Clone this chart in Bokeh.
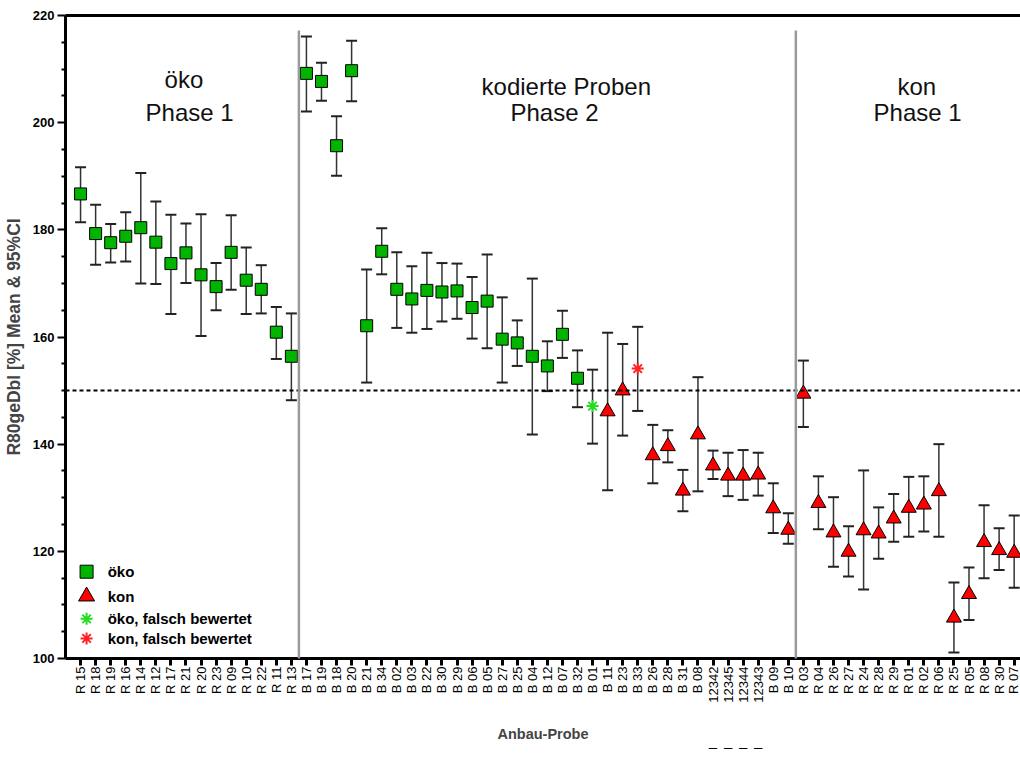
import math
from bokeh.plotting import figure
from bokeh.models import (Range1d, FixedTicker, LinearAxis, Whisker, TeeHead, Span, Label,
                          ColumnDataSource, Arrow)
from bokeh.embed import file_html
from bokeh.resources import INLINE

FONT = "Liberation Sans"

# ---------------- data ----------------
labels = ["R 15", "R 18", "R 19", "R 16", "R 14", "R 12", "R 17", "R 21", "R 20", "R 23",
          "R 09", "R 10", "R 22", "R 11", "R 13",
          "B 17", "B 19", "B 18", "B 20", "B 21", "B 34", "B 02", "B 03", "B 22", "B 30",
          "B 29", "B 06", "B 05", "B 27", "B 25", "B 04", "B 12", "B 07", "B 32", "B 01",
          "B 11", "B 23", "B 33", "B 26", "B 28", "B 31", "B 08", "12342", "12345", "12344",
          "12343", "B 09", "B 10",
          "R 03", "R 04", "R 26", "R 27", "R 24", "R 28", "R 29", "R 01", "R 02", "R 06",
          "R 25", "R 05", "R 08", "R 30", "R 07"]

means = [186.7, 179.3, 177.6, 178.8, 180.4, 177.7, 173.7, 175.7, 171.6, 169.4,
         175.8, 170.6, 168.9, 160.9, 156.4,
         209.2, 207.7, 195.7, 209.7, 162.1, 176.0, 168.9, 167.1, 168.7, 168.4,
         168.6, 165.5, 166.7, 159.6, 158.9, 156.4, 154.6, 160.5, 152.3, 147.1,
         146.1, 150.0, 154.1, 137.9, 139.6, 131.3, 141.8, 136.0, 134.1, 134.1,
         134.3, 128.0, 124.0,
         149.4, 129.0, 123.5, 119.9, 123.9, 123.3, 126.1, 128.1, 128.7, 131.2,
         107.6, 112.0, 121.7, 120.2, 119.7]

ci_low = [181.4, 173.5, 173.9, 174.1, 170.0, 169.9, 164.3, 170.1, 160.2, 165.0,
          168.8, 164.3, 164.4, 155.9, 148.2,
          202.1, 204.1, 190.1, 204.0, 151.5, 171.7, 161.7, 160.8, 161.5, 162.9,
          163.4, 159.7, 157.9, 151.5, 154.6, 141.8, 149.9, 156.1, 146.9, 140.1,
          131.4, 141.6, 146.2, 132.7, 136.6, 127.5, 131.2, 133.5, 130.3, 129.6,
          130.4, 123.4, 121.4,
          143.2, 124.1, 117.1, 115.3, 112.9, 118.6, 121.8, 122.7, 123.7, 122.7,
          101.1, 107.2, 115.0, 116.5, 113.2]

ci_high = [191.7, 184.7, 181.1, 183.3, 190.6, 185.3, 182.8, 181.2, 182.9, 173.8,
           182.7, 176.7, 173.4, 165.6, 164.4,
           216.1, 211.2, 201.2, 215.3, 172.6, 180.3, 175.8, 173.2, 175.7, 173.8,
           173.7, 171.2, 175.4, 167.4, 163.1, 170.9, 159.2, 164.9, 157.5, 153.9,
           160.8, 158.7, 161.9, 143.6, 142.6, 135.2, 152.5, 138.8, 138.4, 138.9,
           138.4, 132.7, 127.1,
           155.6, 134.0, 130.1, 124.7, 135.1, 128.2, 130.7, 133.9, 134.0, 140.0,
           114.2, 117.0, 128.6, 124.3, 126.7]

groups = (["oeko"] * 34 + ["oeko_f", "kon", "kon", "kon_f"] + ["kon"] * 10 + ["kon"] * 15)

group_order = ["oeko", "kon", "oeko_f", "kon_f"]
legend_labels = {"oeko": "öko", "kon": "kon",
                 "oeko_f": "öko, falsch bewertet", "kon_f": "kon, falsch bewertet"}

y_ticks = [100, 120, 140, 160, 180, 200, 220]
y_minor = [105, 110, 115, 125, 130, 135, 145, 150, 155, 165, 170, 175, 185, 190, 195,
           205, 210, 215]
reference_level = 150
separators = [14.5, 47.5]
underlined = ["12342", "12345", "12344", "12343"]

# ---------------- layout / style (not data) ----------------
styles = {
    "oeko": dict(marker="square", size=12, fill_color="#00b400", line_color="black", line_width=1),
    "kon": dict(marker="triangle", size=15, fill_color="#ff0000", line_color="black", line_width=1),
    "oeko_f": dict(marker="asterisk", size=12, line_color="#22dd22", line_width=2),
    "kon_f": dict(marker="asterisk", size=12, line_color="#ff2222", line_width=2),
}
legend_rows_y = [116.2, 111.6, 107.4, 103.75]   # y positions of legend rows (axis units)
legend_marker_x = 0.4
legend_text_x = 1.8

xs = list(range(len(labels)))

# ---------------- figure ----------------
p = figure(width=1020, height=768, output_backend="svg", toolbar_location=None,
           x_range=Range1d(-1, 62.42), y_range=Range1d(100, 220),
           min_border_left=65, min_border_right=0, min_border_top=15, min_border_bottom=110,
           x_axis_label="Anbau-Probe", y_axis_label="R80geDbl [%] Mean & 95%CI")
p.outline_line_color = None
p.grid.visible = False
p.background_fill_color = "white"
p.border_fill_color = "white"

xa = p.xaxis[0]
xa.ticker = FixedTicker(ticks=xs)
xa.major_label_overrides = {i: lab for i, lab in enumerate(labels)}
xa.major_label_orientation = math.pi / 2
xa.major_label_text_font = FONT
xa.major_label_text_font_size = "13px"
xa.major_label_text_color = "black"
xa.major_label_standoff = 1
xa.axis_line_width = 3
xa.axis_line_color = "black"
xa.major_tick_line_width = 3
xa.major_tick_out = 7
xa.major_tick_in = 0
xa.minor_tick_line_color = None
xa.axis_label_text_font = FONT
xa.axis_label_text_font_style = "bold"
xa.axis_label_text_font_size = "14.5px"
xa.axis_label_standoff = 20

# a second, bare axis carrying the short underline dashes below the coded samples
dash_axis = LinearAxis(ticker=FixedTicker(ticks=[labels.index(u) for u in underlined]),
                       major_label_overrides={labels.index(u): "–" for u in underlined},
                       axis_line_color=None, major_tick_line_color=None,
                       minor_tick_line_color=None, major_tick_out=0, major_tick_in=0,
                       major_label_standoff=-7, major_label_text_font=FONT,
                       major_label_text_font_size="15px", major_label_text_color="black")
p.add_layout(dash_axis, "below")

ya = p.yaxis[0]
ya.ticker = FixedTicker(ticks=y_ticks, minor_ticks=y_minor)
ya.major_label_text_font = FONT
ya.major_label_text_font_style = "bold"
ya.major_label_text_font_size = "13px"
ya.major_label_text_color = "black"
ya.major_label_standoff = 3
ya.axis_line_width = 3
ya.major_tick_line_width = 2
ya.major_tick_out = 8
ya.major_tick_in = 0
ya.minor_tick_line_width = 2
ya.minor_tick_out = 4
ya.minor_tick_in = 0
ya.axis_label_text_font = FONT
ya.axis_label_text_font_style = "bold"
ya.axis_label_text_font_size = "17.5px"
ya.axis_label_standoff = 6

top = LinearAxis(ticker=FixedTicker(ticks=[]), axis_line_width=3,
                 major_tick_out=0, major_tick_in=0, minor_tick_out=0, minor_tick_in=0,
                 major_label_text_font_size="0px")
p.add_layout(top, "above")

# reference line
p.add_layout(Span(location=reference_level, dimension="width", line_color="black",
                  line_width=2, line_dash="4 3"))

# separators
for s in separators:
    p.add_layout(Arrow(end=None, x_start=s, y_start=217.2, x_end=s, y_end=98.1,
                       line_color="#9a9a9a", line_width=2.5))

# error bars
src_all = ColumnDataSource(dict(x=xs, lo=ci_low, hi=ci_high))
w = Whisker(base="x", lower="lo", upper="hi", source=src_all, line_color="#333333",
            line_width=1.5,
            upper_head=TeeHead(size=11, line_color="#222222", line_width=2),
            lower_head=TeeHead(size=11, line_color="#222222", line_width=2))
w.level = "underlay"
p.add_layout(w)

# means
for g in group_order:
    idx = [i for i, gg in enumerate(groups) if gg == g]
    src = ColumnDataSource(dict(x=[xs[i] for i in idx], y=[means[i] for i in idx]))
    p.scatter("x", "y", source=src, **styles[g])

# legend (drawn manually for marker size control)
for g, ly in zip(group_order, legend_rows_y):
    st = dict(styles[g])
    if g in ("oeko", "kon"):
        st["size"] = st["size"] + 1
    p.scatter([legend_marker_x], [ly], **st)
    p.add_layout(Label(x=legend_text_x, y=ly, text=legend_labels[g], text_font=FONT,
                       text_font_style="bold", text_font_size="15px", text_color="black",
                       text_align="left", text_baseline="middle"))

# phase headings
headings = [("öko", 5.58, 208.1), ("Phase 1", 4.32, 201.9),
            ("kodierte Proben", 26.63, 206.7), ("Phase 2", 28.55, 201.9),
            ("kon", 54.25, 206.7), ("Phase 1", 52.66, 201.9)]
for t, hx, hy in headings:
    p.add_layout(Label(x=hx, y=hy, text=t, text_font=FONT, text_font_size="24px",
                       text_color="#111111", text_align="left", text_baseline="alphabetic"))

open("out.html", "w").write(file_html(p, INLINE))
